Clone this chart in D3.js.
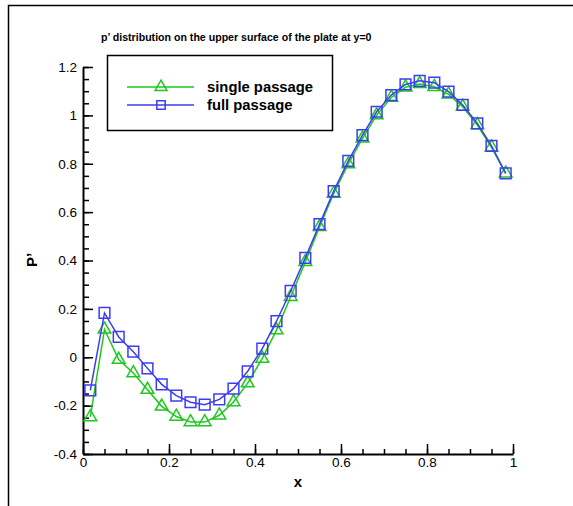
<!DOCTYPE html>
<html>
<head>
<meta charset="utf-8">
<script src="https://cdn.jsdelivr.net/npm/d3@7"></script>
<style>
  body { margin: 0; background: #fff; }
  text { font-family: "Liberation Sans", Arial, Helvetica, sans-serif; }
</style>
</head>
<body>
<script>
'use strict';

// chart data
const xPos = [0.017, 0.05, 0.083, 0.117, 0.15, 0.183, 0.217, 0.25, 0.283, 0.317,
              0.35, 0.383, 0.417, 0.45, 0.483, 0.517, 0.55, 0.583, 0.617, 0.65,
              0.683, 0.717, 0.75, 0.783, 0.817, 0.85, 0.883, 0.917, 0.95, 0.983];
const singlePassage = [-0.247, 0.115, -0.01, -0.065, -0.134, -0.203, -0.245, -0.268, -0.268, -0.24,
                       -0.185, -0.107, -0.005, 0.112, 0.25, 0.394, 0.539, 0.677, 0.799, 0.905,
                       1.001, 1.074, 1.116, 1.13, 1.118, 1.087, 1.036, 0.96, 0.868, 0.76];
const fullPassage = [-0.137, 0.183, 0.084, 0.023, -0.046, -0.112, -0.159, -0.186, -0.196, -0.174,
                     -0.13, -0.058, 0.036, 0.149, 0.274, 0.411, 0.55, 0.687, 0.812, 0.918,
                     1.015, 1.084, 1.128, 1.143, 1.135, 1.098, 1.043, 0.967, 0.874, 0.76];
const xTicks = [0, 0.2, 0.4, 0.6, 0.8, 1];
const yTicks = [-0.4, -0.2, 0, 0.2, 0.4, 0.6, 0.8, 1, 1.2];
const seriesNames = ["single passage", "full passage"];

const green = "#1ec81e";
const blue = "#3c3cf5";

const svg = d3.select('body').append('svg')
  .attr('width', 573)
  .attr('height', 506);

// outer frame (only left and top edges are inside the picture)
svg.append('rect')
  .attr('x', 8.5).attr('y', 5.5)
  .attr('width', 700).attr('height', 700)
  .attr('fill', 'none')
  .attr('stroke', '#000')
  .attr('stroke-width', 1.5);

const xScale = d3.scaleLinear().domain([0, 1]).range([83, 513]);
const yScale = d3.scaleLinear().domain([-0.4, 1.2]).range([454, 67]);

// plain "-" like the original, not the unicode minus
const fmt = d => String(+(+d).toFixed(1));

// x axis: major ticks with labels, minor ticks without
svg.append('g')
  .attr('transform', 'translate(0,454)')
  .call(d3.axisBottom(xScale).tickValues(d3.range(0, 1.0001, 0.05)).tickSize(-5).tickSizeOuter(0).tickFormat(''))
  .call(g => g.select('.domain').remove());
const xAxis = svg.append('g')
  .attr('transform', 'translate(0,454)')
  .call(d3.axisBottom(xScale).tickValues(xTicks).tickSize(-10).tickSizeOuter(0).tickPadding(3)
    .tickFormat(fmt));
xAxis.select('.domain').attr('stroke-width', 2);

// y axis
svg.append('g')
  .attr('transform', 'translate(83,0)')
  .call(d3.axisLeft(yScale).tickValues(d3.range(-0.4, 1.2001, 0.05)).tickSize(-6).tickSizeOuter(0).tickFormat(''))
  .call(g => g.select('.domain').remove());
const yAxis = svg.append('g')
  .attr('transform', 'translate(83,0)')
  .call(d3.axisLeft(yScale).tickValues(yTicks).tickSize(-10).tickSizeOuter(0).tickPadding(6)
    .tickFormat(fmt));
yAxis.select('.domain').attr('stroke-width', 2);

svg.selectAll('.tick line').attr('stroke-width', 1.5);
svg.selectAll('.tick text').style('font-size', '13.5px').attr('fill', '#000');

// titles
svg.append('text')
  .attr('x', 101).attr('y', 41)
  .style('font-size', '10.6px').style('font-weight', 'bold')
  .text("p\u2019 distribution on the upper surface of the plate at y=0");

svg.append('text')
  .attr('x', 298).attr('y', 487)
  .attr('text-anchor', 'middle')
  .style('font-size', '15px').style('font-weight', 'bold')
  .text('x');

svg.append('text')
  .attr('transform', 'translate(37,260)rotate(-90)')
  .attr('text-anchor', 'middle')
  .style('font-size', '15px').style('font-weight', 'bold')
  .text("P\u2019");

// series
const rows = xPos.map((x, i) => ({x: x, single: singlePassage[i], full: fullPassage[i]}));

function drawSeries(key, color, symbolType, size) {
  const line = d3.line()
    .x(d => xScale(d.x))
    .y(d => yScale(d[key]));
  svg.append('path')
    .datum(rows)
    .attr('d', line)
    .attr('fill', 'none')
    .attr('stroke', color)
    .attr('stroke-width', 1.5);
  svg.selectAll('.pt-' + key)
    .data(rows)
    .enter()
    .append('path')
      .attr('class', 'pt-' + key)
      .attr('transform', d => 'translate(' + xScale(d.x) + ',' + yScale(d[key]) + ')')
      .attr('d', d3.symbol().type(symbolType).size(size))
      .attr('fill', 'none')
      .attr('stroke', color)
      .attr('stroke-width', 1.5);
}

drawSeries('single', green, d3.symbolTriangle, 70);
drawSeries('full', blue, d3.symbolSquare, 115);

// legend
svg.append('rect')
  .attr('x', 107.5).attr('y', 55.5)
  .attr('width', 225).attr('height', 75)
  .attr('fill', '#fff')
  .attr('stroke', '#000')
  .attr('stroke-width', 1.5);

const legendRows = [
  {name: seriesNames[0], color: green, sym: d3.symbolTriangle, size: 60, y: 87},
  {name: seriesNames[1], color: blue, sym: d3.symbolSquare, size: 70, y: 105}
];
legendRows.forEach(r => {
  svg.append('line')
    .attr('x1', 127).attr('x2', 194)
    .attr('y1', r.y).attr('y2', r.y)
    .attr('stroke', r.color).attr('stroke-width', 1.5);
  svg.append('path')
    .attr('transform', 'translate(161,' + r.y + ')')
    .attr('d', d3.symbol().type(r.sym).size(r.size))
    .attr('fill', 'none')
    .attr('stroke', r.color)
    .attr('stroke-width', 1.5);
  svg.append('text')
    .attr('x', 207).attr('y', r.y + 5)
    .style('font-size', '14.8px').style('font-weight', 'bold')
    .text(r.name);
});
</script>
</body>
</html>
